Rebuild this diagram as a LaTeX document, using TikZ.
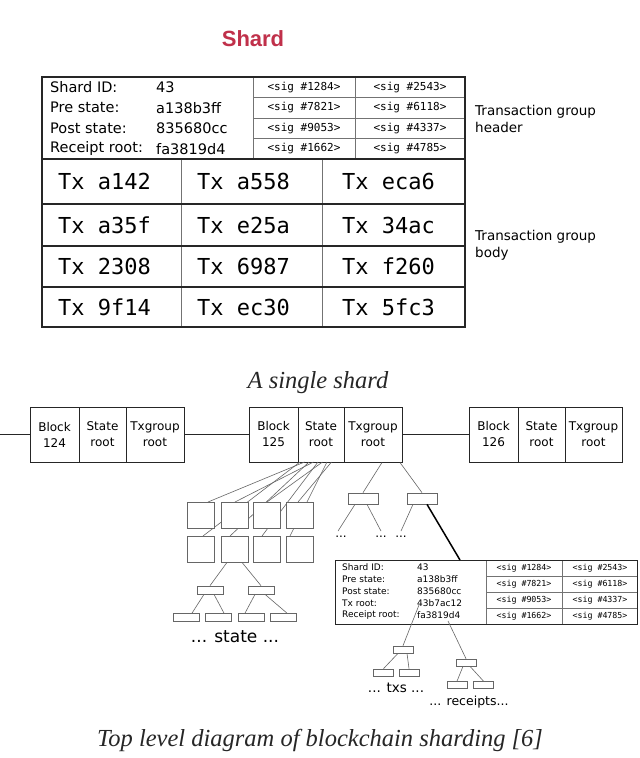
\documentclass[tikz,border=0pt]{standalone}
\usepackage{fontspec}
\setmainfont{DejaVu Sans}
\newfontfamily\monof{DejaVu Sans Mono}
\newfontfamily\serifit{Liberation Serif}
\newfontfamily\titlef{Liberation Sans}
\definecolor{shardred}{HTML}{C0304A}
\begin{document}
\begin{tikzpicture}[x=1pt,y=-1pt,
 frame/.style={draw=black!85, line width=1.2pt},
 gridl/.style={draw=black!55, line width=0.7pt},
 hdr/.style={anchor=west, inner sep=0pt, font=\fontsize{14.5}{16}\selectfont},
 sigt/.style={inner sep=0pt, font=\monof\fontsize{11}{12}\selectfont},
 txt/.style={anchor=west, inner sep=0pt, font=\monof\fontsize{22}{24}\selectfont},
 side/.style={anchor=west, inner sep=0pt, align=left, font=\fontsize{13.5}{17}\selectfont},
 blk/.style={draw=black!85, line width=1pt, minimum height=55pt, inner sep=0pt, align=center, font=\fontsize{12}{16}\selectfont},
 tree/.style={draw=black!60, line width=0.6pt},
 sq/.style={draw=black!60, line width=0.8pt, fill=white, minimum width=27pt, minimum height=26pt, inner sep=0pt},
 tb/.style={draw=black!60, line width=0.7pt, fill=white, minimum width=26pt, minimum height=8pt, inner sep=0pt},
 tbs/.style={draw=black!60, line width=0.7pt, fill=white, minimum width=20pt, minimum height=7pt, inner sep=0pt},
 dots/.style={inner sep=0pt, font=\fontsize{12}{14}\selectfont},
 lbl2/.style={anchor=west, inner sep=0pt, font=\fontsize{9}{10}\selectfont},
 sig2/.style={inner sep=0pt, font=\monof\fontsize{8.3}{9}\selectfont},
 capt/.style={inner sep=0pt, font=\serifit\itshape\fontsize{24.5}{28}\selectfont, text=black!85}
]
\useasboundingbox (0,0) rectangle (640,758);
\fill[white] (0,0) rectangle (640,758);

% ---------- title ----------
\node[inner sep=0pt, font=\titlef\bfseries\fontsize{22}{26}\selectfont, text=shardred] (title) at (253,39) {Shard};

% ---------- single shard table ----------
\draw[gridl] (253,77) -- (253,159) (355,77) -- (355,159);
\draw[gridl] (253,97.5) -- (465,97.5) (253,118) -- (465,118) (253,138.5) -- (465,138.5);
\draw[gridl] (181,159) -- (181,327) (322,159) -- (322,327);
\draw[frame] (42,204) -- (465,204) (42,246) -- (465,246) (42,287) -- (465,287);
\draw[frame] (42,159) -- (465,159);
\draw[frame] (42,77) rectangle (465,327);

\foreach \y/\a/\b/\n in {87.25/Shard ID:/43/1, 107.75/Pre state:/a138b3ff/2, 128.25/Post state:/835680cc/3, 148.75/Receipt root:/fa3819d4/4}{
  \node[hdr] (hl\n) at (50,\y) {\a};
  \node[hdr] (hv\n) at (156,\y) {\b};
}
\foreach \y/\a/\b/\n in {87.25/1284/2543/1, 107.75/7821/6118/2, 128.25/9053/4337/3, 148.75/1662/4785/4}{
  \node[sigt] (sa\n) at (304,\y) {<sig \#\a>};
  \node[sigt] (sb\n) at (410,\y) {<sig \#\b>};
}
\foreach \y/\a/\b/\c/\n in {181.5/a142/a558/eca6/1, 225/a35f/e25a/34ac/2, 266.5/2308/6987/f260/3, 307/9f14/ec30/5fc3/4}{
  \node[txt] (ta\n) at (58,\y) {Tx \a};
  \node[txt] (tb\n) at (197,\y) {Tx \b};
  \node[txt] (tc\n) at (342,\y) {Tx \c};
}
\node[side] (sidehead) at (475,118.5) {Transaction group\\header};
\node[side] (sidebody) at (475,245.5) {Transaction group\\body};

\node[capt] (cap1) at (318,383) {A single shard};

% ---------- block chain ----------
\foreach \x/\w/\t/\n in {54.5/49/{Block\\124}/a, 102.5/47/{State\\root}/b, 155/58/{Txgroup\\root}/c}{
  \node[blk, minimum width=\w pt] (k124\n) at (\x,434.5) {\t};
}
\foreach \x/\w/\t/\n in {273.5/49/{Block\\125}/a, 321/46/{State\\root}/b, 373/58/{Txgroup\\root}/c}{
  \node[blk, minimum width=\w pt] (k125\n) at (\x,434.5) {\t};
}
\foreach \x/\w/\t/\n in {493.5/49/{Block\\126}/a, 541.5/47/{State\\root}/b, 593.5/57/{Txgroup\\root}/c}{
  \node[blk, minimum width=\w pt] (k126\n) at (\x,434.5) {\t};
}
\coordinate (lft) at (0,434.5);
\draw[draw=black!85, line width=1.3pt] (lft) -- (k124a.west);
\draw[draw=black!85, line width=1.3pt] (k124c.east) -- (k125a.west);
\draw[draw=black!85, line width=1.3pt] (k125c.east) -- (k126a.west);

% ---------- state tree ----------
\foreach \x/\n in {201/1, 235/2, 266.5/3, 300/4}{
  \coordinate (r1\n) at (\x,515);
  \coordinate (r2\n) at (\x,549);
}
\foreach \s/\ex/\ey in {300/203/536, 304.5/208/502, 309/230/536, 313.5/235/502, 318/262/536, 322.5/267/502, 327/290/536, 331.5/298/502}{
  \coordinate (fs) at (\s,462);
  \coordinate (fe) at (\ex,\ey);
  \draw[tree] (fs) -- (fe);
}
\foreach \x/\n in {201/1, 235/2, 266.5/3, 300/4}{
  \node[sq] (sqa\n) at (\x,515) {};
  \node[sq] (sqb\n) at (\x,549) {};
}
\node[tb] (sm1) at (210,590) {};
\node[tb] (sm2) at (261,590) {};
\node[tb] (sl1) at (186,617.5) {};
\node[tb] (sl2) at (218,617.5) {};
\node[tb] (sl3) at (251,617.5) {};
\node[tb] (sl4) at (283,617.5) {};
\draw[tree] ([xshift=-8pt]sqb2.south) -- (sm1.north);
\draw[tree] ([xshift=7pt]sqb2.south) -- (sm2.north);
\draw[tree] ([xshift=-6pt]sm1.south) -- ([xshift=6pt]sl1.north);
\draw[tree] ([xshift=4pt]sm1.south) -- ([xshift=6pt]sl2.north);
\draw[tree] ([xshift=-6pt]sm2.south) -- ([xshift=-6pt]sl3.north);
\draw[tree] ([xshift=4pt]sm2.south) -- ([xshift=4pt]sl4.north);
\node[inner sep=0pt, font=\fontsize{17}{20}\selectfont] (statelbl) at (235,637) {... state ...};

% ---------- txgroup tree ----------
\node[tb, minimum width=30pt, minimum height=11pt] (tm1) at (363,498.5) {};
\node[tb, minimum width=30pt, minimum height=11pt] (tm2) at (422,498.5) {};
\draw[tree] ([xshift=9pt]k125c.south) -- (tm1.north);
\draw[tree] ([xshift=27pt]k125c.south) -- (tm2.north);
\node[dots] (d1) at (341,537) {...};
\node[dots] (d2) at (381,537) {...};
\node[dots] (d3) at (401,537) {...};
\draw[tree] ([xshift=-8pt]tm1.south) -- ([xshift=-3pt,yshift=5pt]d1.north);
\draw[tree] ([xshift=4pt]tm1.south) -- ([yshift=5pt]d2.north);
\draw[tree] ([xshift=-9pt]tm2.south) -- ([yshift=5pt]d3.north);

% ---------- shard header box ----------
\draw[gridl] (486,560) -- (486,624) (562,560) -- (562,624);
\draw[gridl] (486,576) -- (637,576) (486,592) -- (637,592) (486,608) -- (637,608);
\draw[frame, line width=1pt] (335,560) rectangle (637,624);
\coordinate (hb) at (460,560);
\draw[draw=black, line width=1.5pt] ([xshift=5pt]tm2.south) -- (hb);
\foreach \y/\a/\b/\n in {567/Shard ID:/43/1, 579/Pre state:/a138b3ff/2, 591/Post state:/835680cc/3, 603/Tx root:/43b7ac12/4, 615/Receipt root:/fa3819d4/5}{
  \node[lbl2] (bl\n) at (342,\y) {\a};
  \node[lbl2] (bv\n) at (417,\y) {\b};
}
\foreach \y/\a/\b/\n in {568/1284/2543/1, 584/7821/6118/2, 600/9053/4337/3, 616/1662/4785/4}{
  \node[sig2] (bsa\n) at (524,\y) {<sig \#\a>};
  \node[sig2] (bsb\n) at (600,\y) {<sig \#\b>};
}

% ---------- txs / receipts trees ----------
\node[tbs] (xm) at (403,649.5) {};
\node[tbs] (xl1) at (383.5,672.5) {};
\node[tbs] (xl2) at (409,672.5) {};
\node[tbs] (rm) at (466,662.5) {};
\node[tbs] (rl1) at (457,685) {};
\node[tbs] (rl2) at (483.5,685) {};
\coordinate (txr) at (419,605);
\coordinate (rcr) at (448,621);
\draw[tree] (txr) -- (xm.north);
\draw[tree] (rcr) -- (rm.north);
\draw[tree] ([xshift=-5pt]xm.south) -- (xl1.north);
\draw[tree] ([xshift=4pt]xm.south) -- (xl2.north);
\draw[tree] ([xshift=-3pt]rm.south) -- (rl1.north);
\draw[tree] ([xshift=4pt]rm.south) -- (rl2.north);
\node[inner sep=0pt, font=\fontsize{13.5}{16}\selectfont] (txslbl) at (396,688) {... txs ...};
\node[inner sep=0pt, font=\fontsize{12.5}{15}\selectfont] (rcplbl) at (469,702) {... receipts...};

\node[capt] (cap2) at (320,740) {Top level diagram of blockchain sharding [6]};
\end{tikzpicture}
\end{document}
